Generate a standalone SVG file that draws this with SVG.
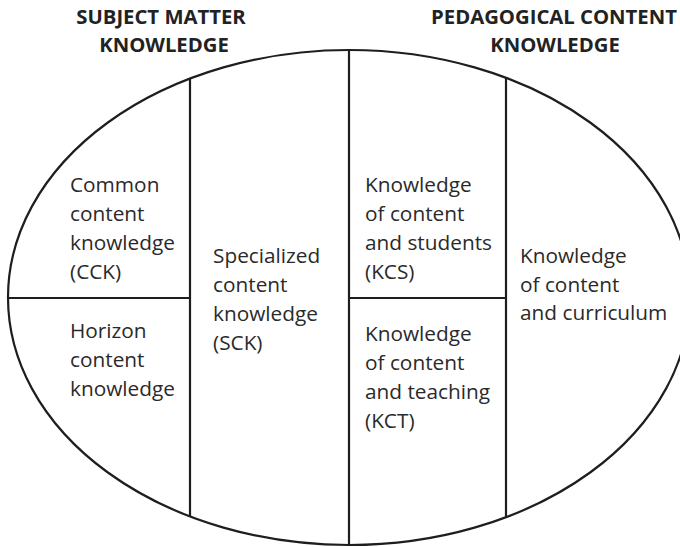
<svg xmlns="http://www.w3.org/2000/svg" width="680" height="547" viewBox="0 0 680 547">
<style>
.ln{fill:none;stroke:#1e1e1e;stroke-width:2.2}
.t{font-family:"Open Sans","Liberation Sans",sans-serif;font-size:20.8px;fill:#2a2a2a}
.h{font-family:"Open Sans","Liberation Sans",sans-serif;font-size:20.3px;font-weight:bold;fill:#222;text-anchor:middle}
</style>
<rect width="680" height="547" fill="#fff"/>
<g id="titles">
<text class="h" x="161" y="24">SUBJECT MATTER</text>
<text class="h" x="164" y="52">KNOWLEDGE</text>
<text class="h" x="554" y="24">PEDAGOGICAL CONTENT</text>
<text class="h" x="555" y="52">KNOWLEDGE</text>
</g>
<g id="connectors">
<ellipse class="ln" cx="349" cy="297.5" rx="341" ry="247.5"/>
<line class="ln" x1="190" y1="78.5" x2="190" y2="517"/>
<line class="ln" x1="349" y1="50" x2="349" y2="545"/>
<line class="ln" x1="506" y1="78" x2="506" y2="517"/>
<line class="ln" x1="8" y1="298" x2="190" y2="298"/>
<line class="ln" x1="349" y1="298" x2="506" y2="298"/>
</g>
<g id="cck">
<text class="t" x="70" y="192">Common</text>
<text class="t" x="70" y="221">content</text>
<text class="t" x="70" y="250">knowledge</text>
<text class="t" x="70" y="279">(CCK)</text>
</g>
<g id="hck">
<text class="t" x="70" y="338">Horizon</text>
<text class="t" x="70" y="367">content</text>
<text class="t" x="70" y="396">knowledge</text>
</g>
<g id="sck">
<text class="t" x="213" y="263">Specialized</text>
<text class="t" x="213" y="292">content</text>
<text class="t" x="213" y="321">knowledge</text>
<text class="t" x="213" y="350">(SCK)</text>
</g>
<g id="kcs">
<text class="t" x="365" y="192">Knowledge</text>
<text class="t" x="365" y="221">of content</text>
<text class="t" x="365" y="250">and students</text>
<text class="t" x="365" y="279">(KCS)</text>
</g>
<g id="kct">
<text class="t" x="365" y="341">Knowledge</text>
<text class="t" x="365" y="370">of content</text>
<text class="t" x="365" y="399">and teaching</text>
<text class="t" x="365" y="428">(KCT)</text>
</g>
<g id="kcc">
<text class="t" x="520" y="263">Knowledge</text>
<text class="t" x="520" y="292">of content</text>
<text class="t" x="520" y="320">and curriculum</text>
</g>
</svg>
